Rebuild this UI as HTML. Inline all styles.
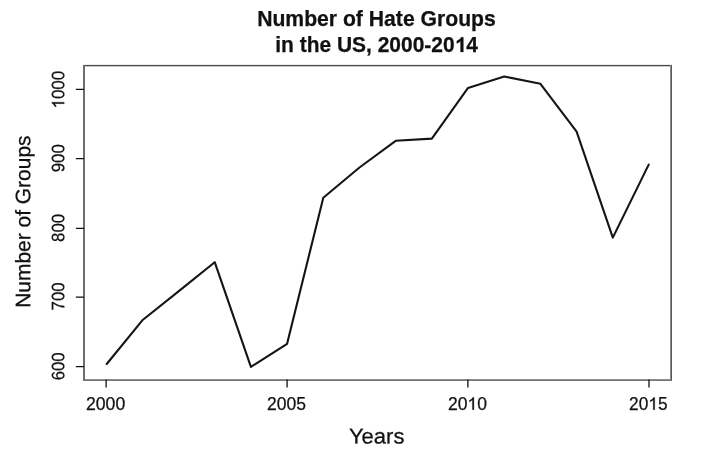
<!DOCTYPE html>
<html><head><meta charset="utf-8"><style>
html,body{margin:0;padding:0;background:#fff;overflow:hidden;}
svg{display:block;filter:blur(0.35px);}
text{font-family:"Liberation Sans",sans-serif;fill:#111;stroke:#111;stroke-width:0.25px;}
.o{fill-opacity:0;stroke-opacity:0;}
.op{fill:#111;stroke:#111;stroke-width:0.25px;}
</style></head><body>
<svg width="720" height="462" viewBox="0 0 720 462">
<rect x="0" y="0" width="720" height="462" fill="#fff"/>
<g><text id="t1" font-size="21.5" text-anchor="middle" font-weight="bold" x="376.45" y="26.0" textLength="238.6" lengthAdjust="spacingAndGlyphs">Number of Hate Groups</text></g>
<g><text id="t2" font-size="21.5" text-anchor="middle" font-weight="bold" x="376.6" y="52.0" textLength="202.7" lengthAdjust="spacingAndGlyphs">in the US, 2000-20<tspan class="o">1</tspan>4</text><path class="op" d="M463.386 52.000L460.508 52.000L460.508 41.315Q458.931 42.768 456.790 43.464L456.790 40.891Q457.917 40.528 459.238 39.519Q460.559 38.510 461.051 37.208L463.386 37.208Z"/></g>
<g shape-rendering="crispEdges">
<rect x="83" y="64" width="589" height="1" fill="#ececec"/>
<rect x="83" y="66" width="589" height="1" fill="#c8c8c8"/>
<rect x="83" y="65" width="589" height="1" fill="#4a4a4a"/>
<rect x="83" y="379" width="589" height="1" fill="#8e8e8e"/>
<rect x="83" y="380" width="589" height="1" fill="#747474"/>
<rect x="83" y="65" width="2" height="316" fill="#6e6e6e"/>
<rect x="670" y="65" width="1" height="316" fill="#8a8a8a"/>
<rect x="671" y="65" width="1" height="316" fill="#5a5a5a"/>
</g>
<path d="M75.8 366.6H84M75.8 297.1H84M75.8 228.3H84M75.8 158.6H84M75.8 89.45H84M106.1 379.5V387.6M287.1 379.5V387.6M467.9 379.5V387.6M649.0 379.5V387.6" stroke="#111" stroke-width="1.3" fill="none"/>
<g transform="translate(64.23,366.33) rotate(-89.95)"><text id="y600" font-size="18.0" text-anchor="middle" x="0" y="0" textLength="28.06" lengthAdjust="spacingAndGlyphs">600</text></g>
<g transform="translate(64.23,296.36) rotate(-89.95)"><text id="y700" font-size="18.0" text-anchor="middle" x="0" y="0" textLength="28.06" lengthAdjust="spacingAndGlyphs">700</text></g>
<g transform="translate(64.23,227.89) rotate(-89.95)"><text id="y800" font-size="18.0" text-anchor="middle" x="0" y="0" textLength="28.06" lengthAdjust="spacingAndGlyphs">800</text></g>
<g transform="translate(64.23,158.23) rotate(-89.95)"><text id="y900" font-size="18.0" text-anchor="middle" x="0" y="0" textLength="28.06" lengthAdjust="spacingAndGlyphs">900</text></g>
<g transform="translate(64.23,89.68) rotate(-89.95)"><text id="y1000" font-size="18.0" text-anchor="middle" x="0" y="0" textLength="37.66" lengthAdjust="spacingAndGlyphs"><tspan class="o">1</tspan>000</text><path class="op" d="M-12.523 0.000L-14.011 0.000L-14.011 -9.689Q-14.548 -9.165 -15.424 -8.642Q-16.292 -8.118 -16.987 -7.856L-16.987 -9.326Q-15.739 -9.926 -14.804 -10.779Q-13.870 -11.632 -13.482 -12.384L-12.523 -12.384Z"/></g>
<g><text id="x2000" font-size="18.0" text-anchor="middle" x="105.6" y="409.7" textLength="39.25" lengthAdjust="spacingAndGlyphs">2000</text></g>
<g><text id="x2005" font-size="18.0" text-anchor="middle" x="286.6" y="409.7" textLength="38.99" lengthAdjust="spacingAndGlyphs">2005</text></g>
<g><text id="x2010" font-size="18.0" text-anchor="middle" x="467.4" y="409.7" textLength="39.0" lengthAdjust="spacingAndGlyphs">20<tspan class="o">1</tspan>0</text><path class="op" d="M473.931 409.700L472.391 409.700L472.391 400.011Q471.834 400.535 470.927 401.058Q470.028 401.582 469.309 401.844L469.309 400.374Q470.601 399.774 471.569 398.921Q472.536 398.068 472.938 397.316L473.931 397.316Z"/></g>
<g><text id="x2015" font-size="18.0" text-anchor="middle" x="648.3" y="409.7" textLength="38.43" lengthAdjust="spacingAndGlyphs">20<tspan class="o">1</tspan>5</text><path class="op" d="M654.736 409.700L653.218 409.700L653.218 400.011Q652.669 400.535 651.775 401.058Q650.890 401.582 650.181 401.844L650.181 400.374Q651.455 399.774 652.408 398.921Q653.361 398.068 653.757 397.316L654.736 397.316Z"/></g>
<g transform="rotate(0.03 376.7 443.6)"><text id="years" font-size="21.5" text-anchor="middle" x="376.7" y="443.6" textLength="55.6" lengthAdjust="spacingAndGlyphs">Years</text></g>
<g transform="translate(30.2,221.65) rotate(-89.97)"><text id="ylab2" font-size="21.0" text-anchor="middle" x="0" y="0" textLength="172.3" lengthAdjust="spacingAndGlyphs">Number of Groups</text></g>
<polyline points="106.70,364.00 142.34,320.30 178.53,291.40 214.72,262.20 250.91,366.90 287.10,343.80 323.29,197.70 359.48,167.50 395.67,140.80 431.86,138.60 468.05,87.90 504.24,76.50 540.43,83.80 576.62,131.60 612.81,237.60 648.70,164.60" fill="none" stroke="#151515" stroke-width="2.1" stroke-linejoin="round" stroke-linecap="round"/>
</svg>
</body></html>
